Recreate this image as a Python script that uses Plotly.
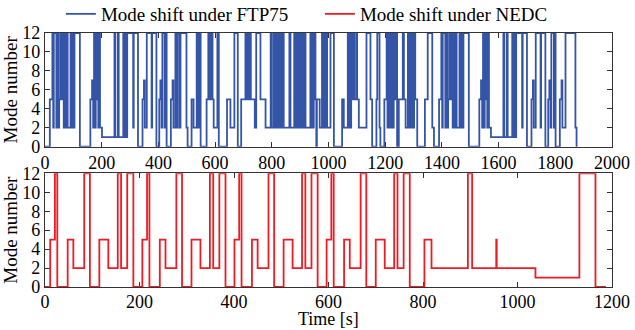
import plotly.graph_objects as go

# FTP75 mode-shift change points (time [s], mode number), drawn as steps
ftp_phase1_t = [0, 17, 26, 29, 31, 40, 44, 47, 50, 54, 57, 60, 66, 70, 72, 78, 80, 90, 93, 96, 100, 104,
                123, 160, 166, 170, 173, 176, 179, 182, 185, 188, 191, 194, 201, 245, 248, 257, 260, 276, 279, 283, 286, 290, 311, 313,
                328, 344, 349, 352, 359, 376, 378, 393, 403, 407, 411, 414, 422, 426, 429, 444, 450, 453, 460, 463, 468, 475, 478, 499]
ftp_phase1_mode = [0, 5, 12, 2, 12, 2, 12, 2, 5, 12, 5, 12, 2, 12, 2, 12, 2, 12, 2, 12, 2, 12,
                   0, 5, 7, 2, 12, 2, 12, 5, 12, 2, 12, 2, 1, 12, 1, 12, 1, 12, 1, 12, 1, 12, 2, 12,
                   0, 5, 7, 2, 12, 2, 12, 0, 5, 7, 2, 12, 2, 12, 0, 5, 7, 2, 12, 2, 12, 2, 12, 2]

ftp_phase2_t = [503, 517, 524, 535, 538, 541, 544, 546, 549, 570, 576, 579, 582, 585, 588, 591, 595, 608, 613, 642, 654, 668, 680, 692,
                707, 711, 714, 718, 722, 726, 740, 745, 760, 778, 796, 799, 806, 809, 812, 815, 818, 821, 824, 828, 831, 834, 837, 842,
                862, 866, 879, 882, 885, 888, 891, 894, 897, 901, 907, 911, 915, 919, 936, 939, 942, 945, 948, 954, 957, 959, 969, 977,
                980, 983, 986, 989, 995, 1007, 1019, 1048, 1054, 1068, 1071, 1074, 1077, 1080, 1083, 1088, 1091, 1098, 1101, 1107, 1134,
                1148, 1154, 1169, 1172, 1180, 1183, 1197, 1205, 1208, 1211, 1214, 1217, 1220, 1224, 1227, 1230, 1233, 1237, 1242, 1248,
                1262, 1266, 1272, 1280, 1283, 1287, 1290, 1294, 1298, 1302, 1306, 1313, 1340, 1350, 1366]
ftp_phase2_mode = [0, 5, 2, 12, 2, 12, 2, 12, 0, 5, 12, 5, 12, 5, 12, 5, 2, 12, 0, 5, 2, 12, 0, 5,
                   12, 5, 12, 5, 12, 5, 2, 12, 5, 2, 12, 2, 12, 2, 12, 2, 12, 2, 12, 2, 12, 2, 12, 2,
                   12, 2, 12, 2, 12, 2, 12, 2, 12, 2, 12, 2, 12, 2, 12, 2, 12, 2, 12, 5, 0, 5, 2, 12,
                   2, 12, 2, 12, 2, 12, 0, 5, 2, 12, 2, 12, 2, 12, 5, 12, 5, 12, 5, 2, 12,
                   5, 0, 5, 12, 2, 0, 5, 12, 2, 12, 2, 12, 2, 12, 2, 12, 5, 12, 0, 5,
                   12, 5, 2, 12, 2, 12, 2, 12, 2, 12, 5, 0, 5, 12, 2]

ftp_phase3_t = [1372, 1390, 1398, 1401, 1403, 1412, 1416, 1419, 1422, 1426, 1429, 1432, 1438, 1442, 1444, 1450, 1452, 1462, 1465, 1468, 1472, 1476,
                1495, 1532, 1538, 1542, 1545, 1548, 1551, 1554, 1557, 1560, 1563, 1566, 1573, 1617, 1620, 1629, 1632, 1648, 1651, 1655, 1658, 1662, 1683, 1685,
                1700, 1716, 1721, 1724, 1731, 1748, 1750, 1765, 1775, 1779, 1783, 1786, 1795, 1798, 1801, 1816, 1822, 1825, 1836, 1871, 1875, 1878]
ftp_phase3_mode = [0, 5, 12, 2, 12, 2, 12, 2, 5, 12, 5, 12, 2, 12, 2, 12, 2, 12, 2, 12, 2, 12,
                   0, 5, 7, 2, 12, 2, 12, 5, 12, 2, 12, 2, 1, 12, 1, 12, 1, 12, 1, 12, 1, 12, 2, 12,
                   0, 5, 7, 2, 12, 2, 12, 0, 5, 7, 2, 12, 2, 12, 0, 5, 7, 2, 12, 2, 0, 0]

# NEDC mode-shift change points
nedc_t = [0, 11, 21, 26, 48, 60, 83, 95, 115, 134, 154, 161, 174, 187,
          206, 216, 221, 243, 255, 278, 290, 310, 329, 349, 356, 369, 382,
          401, 411, 416, 438, 450, 473, 485, 505, 524, 544, 551, 564, 577,
          596, 606, 611, 633, 645, 668, 680, 700, 719, 739, 746, 759, 772,
          803, 818, 895, 904, 955, 956, 1038, 1131, 1165, 1187]
nedc_mode = [0, 5, 12, 0, 5, 2, 12, 0, 5, 2, 12, 2, 12, 0,
             5, 12, 0, 5, 2, 12, 0, 5, 2, 12, 2, 12, 0,
             5, 12, 0, 5, 2, 12, 0, 5, 2, 12, 2, 12, 0,
             5, 12, 0, 5, 2, 12, 0, 5, 2, 12, 2, 12, 0,
             5, 2, 12, 2, 5, 2, 1, 12, 0, 0]

legend_names = ["Mode shift under FTP75", "Mode shift under NEDC"]
y_ticks = [0, 2, 4, 6, 8, 10, 12]

ftp_t = ftp_phase1_t + ftp_phase2_t + ftp_phase3_t
ftp_mode = ftp_phase1_mode + ftp_phase2_mode + ftp_phase3_mode

FONT = "Liberation Serif"
BLUE = "rgb(52,84,168)"
RED = "rgb(237,28,36)"

fig = go.Figure()
fig.add_trace(go.Scatter(x=ftp_t, y=ftp_mode, mode="lines", line=dict(color=BLUE, width=1.8, shape="hv"),
                         name=legend_names[0], xaxis="x", yaxis="y", cliponaxis=False))
fig.add_trace(go.Scatter(x=nedc_t, y=nedc_mode, mode="lines", line=dict(color=RED, width=1.8, shape="hv"),
                         name=legend_names[1], xaxis="x2", yaxis="y2", cliponaxis=False))

axis_common = dict(showline=True, mirror="ticks", linecolor="#333", linewidth=1.2, ticks="inside", ticklen=5,
                   tickcolor="#333", showgrid=False, zeroline=False, layer="below traces", automargin=False,
                   tickfont=dict(family=FONT, size=18, color="black"))

fig.update_layout(
    width=635, height=330,
    margin=dict(l=45, r=23, t=30, b=43),
    paper_bgcolor="white", plot_bgcolor="white",
    font=dict(family=FONT, size=19, color="black"),
    xaxis=dict(domain=[0, 1], anchor="y", range=[0, 2000], tick0=0, dtick=200, **axis_common),
    yaxis=dict(domain=[0.5525, 1], anchor="x", range=[0, 12], tickvals=y_ticks,
               title=dict(text="Mode number", font=dict(family=FONT, size=19)), **axis_common),
    xaxis2=dict(domain=[0, 1], anchor="y2", range=[0, 1200], tick0=0, dtick=200,
                ticklabelstandoff=-2, **axis_common),
    yaxis2=dict(domain=[0, 0.4475], anchor="x2", range=[0, 12], tickvals=y_ticks,
                title=dict(text="Mode number", font=dict(family=FONT, size=19)), **axis_common),
    legend=dict(orientation="h", x=0.028, xanchor="left", xref="paper",
                y=1 - 14 / 330, yanchor="middle", yref="container",
                font=dict(family=FONT, size=19), bgcolor="rgba(0,0,0,0)",
                entrywidth=214, entrywidthmode="pixels", tracegroupgap=0),
    annotations=[dict(text="Time [s]", xref="paper", yref="paper", x=0.5, y=-44 / 257,
                      xanchor="center", yanchor="bottom", showarrow=False,
                      font=dict(family=FONT, size=18, color="black"), borderpad=0)],
    showlegend=True,
)

fig.write_html("out.html")
